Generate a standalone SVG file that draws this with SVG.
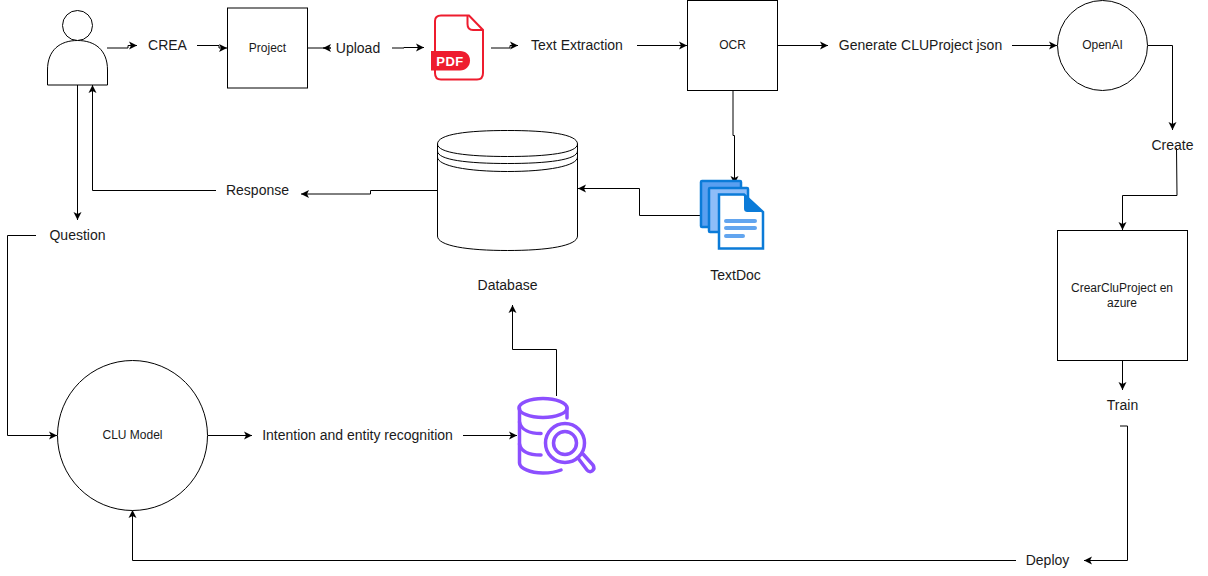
<svg xmlns="http://www.w3.org/2000/svg" width="1208" height="576" viewBox="0 0 1208 576">
<style>
text{font-family:"Liberation Sans",Arial,sans-serif;fill:#1a1a1a;text-anchor:middle}
.l{font-size:14px}
.s{font-size:12px}
.n{fill:#fff;stroke:#000;stroke-width:1}
.c{fill:none;stroke:#000;stroke-width:1;marker-end:url(#a)}
.ol{fill:none;stroke:#000;stroke-width:1}
</style>
<defs>
<marker id="a" markerWidth="10" markerHeight="10" refX="8" refY="4" orient="auto" markerUnits="userSpaceOnUse" overflow="visible"><path d="M0 0L8 4L0 8L2 4Z" fill="#000"/></marker>
</defs>
<rect width="1208" height="576" fill="#fff"/>
<g id="connectors">
<path class="c" d="M107 48H128V45.500H137"/>
<path class="c" d="M197 45.500H219V48H227"/>
<path class="c" d="M308 48H331H323"/>
<path class="c" d="M392 48H404V47.500H424"/>
<path class="c" d="M491 48H510V45.500H518"/>
<path class="c" d="M637 45.500H687"/>
<path class="c" d="M778 45.500H828"/>
<path class="c" d="M1012 45.500H1057"/>
<path class="c" d="M1148 45.500H1172.500V130"/>
<path class="c" d="M1176.500 148L1177 195.500H1122.500V230"/>
<path class="c" d="M1122.500 361V390"/>
<path class="c" d="M1120 426H1127.500V560.500H1084"/>
<path class="c" d="M1016 560.500H132.500V510"/>
<path class="c" d="M36 235.500H7.500V435.500H57"/>
<path class="c" d="M77.500 85V220"/>
<path class="c" d="M216 190.500H92.500V85"/>
<path class="c" d="M437 190.500H370.500V194H301"/>
<path class="c" d="M700 215.500H639.500V188.500H578"/>
<path class="c" d="M733 91V135.500H734.500V184"/>
<path class="c" d="M208 435.500H252"/>
<path class="c" d="M463 435.500H517"/>
<path class="c" d="M556.500 396V349.500H512.500V305"/>
</g>
<g id="user"><circle class="n" cx="77.500" cy="25.500" r="15"/><path class="n" d="M47.500 85V70C47.500 50 60 40.500 77.500 40.500S107.500 50 107.500 70V85Z"/></g>
<g id="crea"><text class="l" x="167.500" y="50">CREA</text></g>
<g id="project"><rect class="n" x="227.500" y="8" width="80" height="80"/><text class="s" x="267.500" y="52">Project</text></g>
<g id="upload"><text class="l" x="358" y="53">Upload</text></g>
<g id="pdf">
<path d="M447 15.500H469L483 30V73C483 77 481 79.500 477 79.500H441C437 79.500 435 77 435 73V21C435 17 437 15.500 441 15.500Z" fill="#fff" stroke="#ee1c2e" stroke-width="2"/>
<path d="M467.500 15.500V24C467.500 28 469.500 30 473 30H483" fill="none" stroke="#ee1c2e" stroke-width="2"/>
<path d="M431 51H460C466 51 470 55 470 60.500S466 70.500 460 70.500H431Z" fill="#ee1c2e"/>
<text x="450" y="66" style="font-size:13px;font-weight:700;fill:#fff;letter-spacing:.5px">PDF</text>
</g>
<g id="text-extraction"><text class="l" x="577" y="50">Text Extraction</text></g>
<g id="ocr"><rect class="n" x="687.500" y="0.500" width="90" height="90"/><text class="s" x="732.500" y="49">OCR</text></g>
<g id="generate"><text class="l" x="920.500" y="50">Generate CLUProject json</text></g>
<g id="openai"><circle class="n" cx="1102.500" cy="45.500" r="45"/><text class="s" x="1102.500" y="49">OpenAI</text></g>
<g id="create"><text class="l" x="1172.500" y="150">Create</text></g>
<g id="crear"><rect class="n" x="1057.500" y="230.500" width="130" height="130"/><text class="s" x="1122" y="292">CrearCluProject en</text><text class="s" x="1122" y="307">azure</text></g>
<g id="train"><text class="l" x="1122.500" y="410">Train</text></g>
<g id="deploy"><text class="l" x="1047.500" y="565">Deploy</text></g>
<g id="clu"><circle class="n" cx="132.500" cy="435.500" r="75"/><text class="s" x="132.500" y="439">CLU Model</text></g>
<g id="intention"><text class="l" x="357.500" y="440">Intention and entity recognition</text></g>
<g id="search">
<g fill="none" stroke="#8c4fff" stroke-width="3.500" stroke-linecap="round">
<ellipse cx="543" cy="408" rx="24" ry="9.500"/>
<path d="M519.500 408V463C519.500 468 530 473 543 473C549 473 556 472 561 470"/>
<path d="M567 408V418"/>
<path d="M519.500 422C521 430 530 433.500 541 433.500"/>
<path d="M519.500 444C521 452 530 455 541 455"/>
<circle cx="565" cy="443" r="19.500"/>
<circle cx="565" cy="443" r="11.500"/>
<path d="M578 458L587 470C590 474 596 470 593 465L583 454"/>
</g></g>
<g id="question"><text class="l" x="77.500" y="240">Question</text></g>
<g id="response"><text class="l" x="257.500" y="195">Response</text></g>
<g id="database">
<path class="n" d="M437.500 144C437.500 134 468 130.500 507.500 130.500S577.500 134 577.500 144V236C577.500 246 547 250.500 507.500 250.500S437.500 246 437.500 236Z"/>
<path class="ol" d="M437.500 144C437.500 153 468 156.500 507.500 156.500S577.500 153 577.500 144M437.500 151C437.500 160 468 163.500 507.500 163.500S577.500 160 577.500 151M437.500 157C437.500 166 468 171.500 507.500 171.500S577.500 166 577.500 157"/>
<text class="l" x="507.500" y="290">Database</text>
</g>
<g id="textdoc">
<rect x="701" y="181" width="40" height="46" rx="1" fill="#5a9ff0" stroke="#0b7bd8" stroke-width="2.500"/>
<rect x="709" y="188" width="39" height="44" rx="1" fill="#8fbdf8" stroke="#0b7bd8" stroke-width="2.500"/>
<path d="M719 194.500H744L763 212V248.500H719Z" fill="#fff" stroke="#0b7bd8" stroke-width="2.500"/>
<path d="M744 194.500V208C744 211 745 212 748 212H763Z" fill="#0b7bd8"/>
<path d="M726 221H755M726 228H755M726 236H743" stroke="#62a5ef" stroke-width="4" stroke-linecap="round"/>
<text class="l" x="735.500" y="280">TextDoc</text>
</g>
</svg>
